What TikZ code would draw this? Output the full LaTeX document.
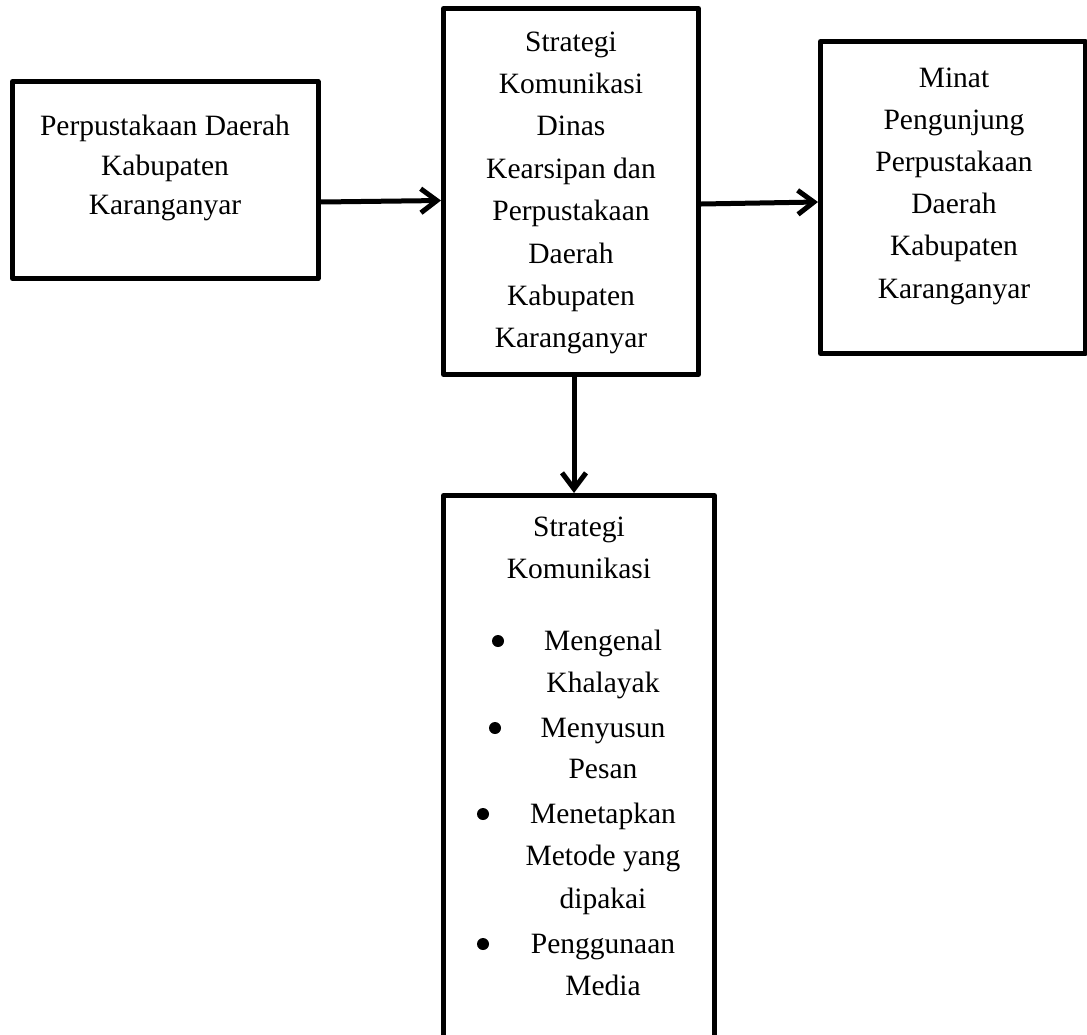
\documentclass[tikz,border=0pt]{standalone}
\usepackage{fontspec}
\setmainfont{Liberation Serif}
\usetikzlibrary{arrows.meta}
\tikzset{
  box/.style={draw, line width=5pt, inner sep=0pt, line join=round},
  lbl/.style={anchor=base, inner sep=0pt, font=\fontsize{29.5}{36}\selectfont},
  dot/.style={circle, fill, inner sep=0pt, minimum size=12pt},
  arr/.style={line width=5pt, -{Straight Barb[length=16pt,width=24pt]}}
}
\begin{document}
\begin{tikzpicture}[x=1pt,y=-1pt]
\path[use as bounding box] (0,0) rectangle (1087,1034);
\clip (0,0) rectangle (1087,1034);
% boxes
\node[box, minimum width=305.5pt, minimum height=197pt] (b1) at (165.25,180) {};
\node[box, minimum width=255pt, minimum height=366pt] (b2) at (571,191.5) {};
\node[box, minimum width=264.5pt, minimum height=312pt] (b3) at (952.75,197.5) {};
\node[box, minimum width=271pt, minimum height=570pt] (b4) at (579,780.5) {};
% texts box 1
\foreach \t/\y [count=\i] in {Perpustakaan Daerah/135, Kabupaten/175, Karanganyar/214}
  \node[lbl] (t1-\i) at (165,\y) {\t};
% texts box 2
\foreach \t [count=\i] in {Strategi, Komunikasi, Dinas, Kearsipan dan, Perpustakaan, Daerah, Kabupaten, Karanganyar}
  \node[lbl] (t2-\i) at (571,{51+42.4*(\i-1)}) {\t};
% texts box 3
\foreach \t [count=\i] in {Minat, Pengunjung, Perpustakaan, Daerah, Kabupaten, Karanganyar}
  \node[lbl] (t3-\i) at (954,{87+42.2*(\i-1)}) {\t};
% texts box 4
\node[lbl] (t4-a) at (579,536) {Strategi};
\node[lbl] (t4-b) at (579,578) {Komunikasi};
\foreach \t/\y [count=\i] in {Mengenal/650, Khalayak/692, Menyusun/737, Pesan/778, Menetapkan/823, Metode yang/865, dipakai/908, Penggunaan/953, Media/995}
  \node[lbl] (t4-\i) at (603,\y) {\t};
\node[dot] (bu1) at (498,641) {};
\node[dot] (bu2) at (495,728) {};
\node[dot] (bu3) at (483,814) {};
\node[dot] (bu4) at (483,944) {};
% connectors
\draw[arr] ([yshift=-22pt]b1.east) -- ([yshift=-9pt]b2.west);
\draw[arr] ([yshift=-12.5pt]b2.east) -- ([yshift=-4.5pt]b3.west);
\draw[arr] ([xshift=3pt]b2.south) -- ([xshift=-5pt]b4.north);
\end{tikzpicture}
\end{document}
